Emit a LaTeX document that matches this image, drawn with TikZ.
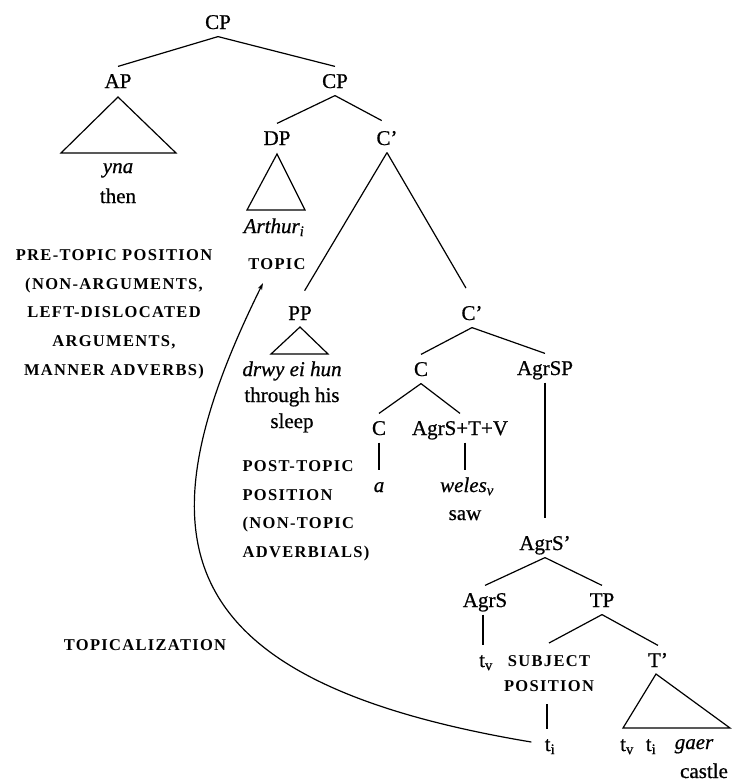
\documentclass[tikz,border=0pt]{standalone}
\usepackage{fontspec}
\setmainfont{Liberation Serif}[FakeBold=0.7]
\newfontfamily\capsfont[LetterSpace=8]{Liberation Serif}
\usetikzlibrary{arrows.meta}
\newcommand{\mainsz}{\fontsize{21}{25}\selectfont}
\newcommand{\capsz}{\capsfont\bfseries\fontsize{16.5}{28.7}\selectfont}
\newcommand{\sub}[1]{\textsubscript{#1}}
\begin{document}
\begin{tikzpicture}[x=1pt,y=-1pt,
  line width=1.2pt,
  tn/.style={font=\mainsz, inner xsep=1pt, inner ysep=7pt,
             text height=14pt, text depth=0pt, anchor=base},
  word/.style={font=\mainsz, inner sep=0pt, anchor=base},
  lab/.style={font=\capsz, inner sep=0pt},
  tri/.style={line join=miter},
  move/.style={-{Stealth[length=7pt,width=4.5pt]}}]
\useasboundingbox (0,0) rectangle (732,782);

% ---- category nodes
\node[tn] (CP)    at (218,29)  {CP};
\node[tn] (AP)    at (118,88)  {AP};
\node[tn] (CPb)   at (335,88)  {CP};
\node[tn] (DP)    at (277,145) {DP};
\node[tn] (Cb1)   at (387,145) {C’};
\node[tn] (PP)    at (300,320) {PP};
\node[tn] (Cb2)   at (472,320) {C’};
\node[tn] (Cm)    at (421,376) {C};
\node[tn] (AgrSP) at (545,375) {AgrSP};
\node[tn] (Cs)    at (379,435) {C};
\node[tn] (ASTV)  at (460,435) {AgrS+T+V};
\node[tn] (AgrSb) at (545,550) {AgrS’};
\node[tn] (AgrS)  at (485,607) {AgrS};
\node[tn] (TP)    at (602,607) {TP};
\node[tn] (Tb)    at (658,667) {T’};

% ---- terminals
\node[tn] (tv1)   at (486,667) {t\sub{v}};
\node[tn] (ti)    at (550,751) {t\sub{i}};
\node[tn] (a)     at (379,492) {\itshape a};
\node[tn] (weles) at (467,492) {\itshape weles\sub{v}};
\node[word] (saw)   at (465,520) {saw};
\node[word] (yna)   at (118,173) {\itshape yna};
\node[word] (then)  at (118,203) {then};
\node[word] (arth)  at (274,233) {\itshape Arthur\sub{i}};
\node[word] (drwy)  at (292,376) {\itshape drwy ei hun};
\node[word] (thr)   at (292,402) {through his};
\node[word] (sleep) at (292,428) {sleep};
\node[word] (tv2)   at (627,751) {t\sub{v}};
\node[word] (ti2)   at (651,751) {t\sub{i}};
\node[word] (gaer)  at (694,749) {\itshape gaer};
\node[word] (castle) at (704,778) {castle};

% ---- annotations
\node[lab, anchor=base] (topic) at (277,269) {TOPIC};
\node[lab, anchor=north, align=center] (pre) at (114,248.8)
  {PRE-TOPIC POSITION\\(NON-ARGUMENTS,\\LEFT-DISLOCATED\\ARGUMENTS,\\MANNER ADVERBS)};
\node[lab, anchor=north west, align=left] (post) at (242,459.8)
  {POST-TOPIC\\POSITION\\(NON-TOPIC\\ADVERBIALS)};
\node[lab, anchor=base] (topz) at (145,650) {TOPICALIZATION};
\node[lab, anchor=north, align=center, inner ysep=12pt,
      font={\capsz\fontsize{16.5}{25}\selectfont}] (subj) at (549,643)
  {SUBJECT\\POSITION};

% ---- branches
\draw (CP.south) -- (AP.north);
\draw (CP.south) -- (CPb.north);
\draw (CPb.south) -- (DP.north);
\draw[shorten >=6pt] (CPb.south) -- (Cb1.north);
\draw[shorten >=9pt] (Cb1.south) -- (PP.north);
\draw[shorten >=12pt] (Cb1.south) -- (Cb2.north);
\draw (Cb2.south) -- (Cm.north);
\draw (Cb2.south) -- (AgrSP.north);
\draw (Cm.south) -- (Cs.north);
\draw (Cm.south) -- (ASTV.north);
\draw (Cs.south) -- (Cs.south |- a.north);
\coordinate (wtop) at (weles.north -| 465,0);
\draw (ASTV.south -| wtop) -- (wtop);
\draw[shorten >=10pt] (AgrSP.south) -- (AgrSb.north);
\draw (AgrSb.south) -- (AgrS.north);
\draw (AgrSb.south) -- (TP.north);
\draw (AgrS.south -| 483,0) -- (tv1.north -| 483,0);
\draw (TP.south) -- (subj.north);
\draw (TP.south) -- (Tb.north);
\draw (subj.south -| 547,0) -- (ti.north -| 547,0);

% ---- triangles
\draw[tri] (118,97) -- (61,153) -- (176,153) -- cycle;
\draw[tri] (277,154) -- (247,210) -- (305,210) -- cycle;
\draw[tri] (300,327) -- (271,354) -- (328,354) -- cycle;
\draw[tri] (656,674) -- (623,728) -- (730,728) -- cycle;

% ---- movement arrow
\coordinate (tip) at (263,283);
\draw[move, shorten <=12pt] (ti.west) .. controls (160,680) and (139,534) .. (tip);
\end{tikzpicture}
\end{document}
